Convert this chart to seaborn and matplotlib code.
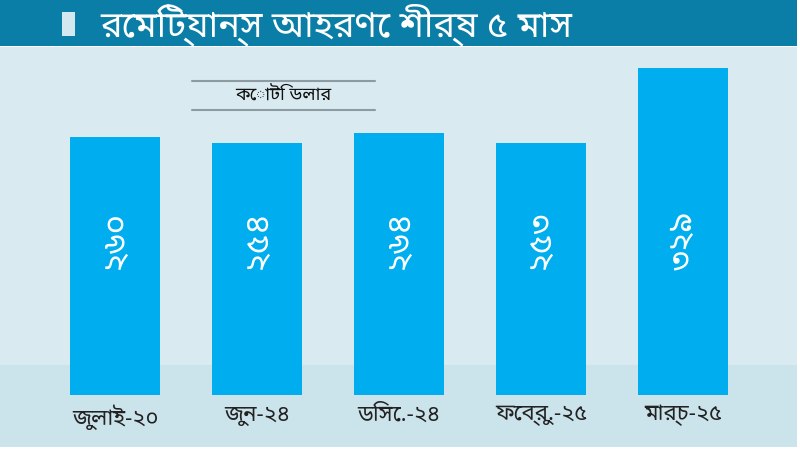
import matplotlib
matplotlib.use('Agg')
import matplotlib.pyplot as plt
import seaborn as sns
import pandas as pd
from matplotlib import font_manager
from matplotlib.patches import Rectangle
from matplotlib.lines import Line2D

# data (crore USD)
months = ['জুলাই-২০', 'জুন-২৪', 'ডিসে.-২৪', 'ফেব্রু.-২৫', 'মার্চ-২৫']
values = [260, 254, 264, 253, 329]
value_labels = ['২৬০', '২৫৪', '২৬৪', '২৫৩', '৩২৯']
title = 'রেমিট্যান্স আহরণে শীর্ষ ৫ মাস'
unit = 'কোটি ডলার'

sns.set_theme(style='white')
installed = {f.name for f in font_manager.fontManager.ttflist}
bn = [n for n in ['Noto Sans Bengali', 'Hind Siliguri', 'Lohit Bengali', 'FreeSans']
      if n in installed]
plt.rcParams['font.family'] = bn[:1] + ['DejaVu Sans']

df = pd.DataFrame({'month': months, 'value': values})

fig = plt.figure(figsize=(8, 4.5), dpi=100)
fig.patch.set_facecolor('white')

# background panels
fig.patches.append(Rectangle((0, 0.0067), 0.996, 0.889, transform=fig.transFigure,
                             facecolor='#d9ebf1', edgecolor='none', zorder=-10))
fig.patches.append(Rectangle((0, 0.0067), 0.996, 0.182, transform=fig.transFigure,
                             facecolor='#cbe3eb', edgecolor='none', zorder=-9))
# title bar
fig.patches.append(Rectangle((0, 0.898), 0.996, 0.102, transform=fig.transFigure,
                             facecolor='#0a7ea6', edgecolor='none', zorder=-8))
fig.patches.append(Rectangle((0.078, 0.92), 0.016, 0.053, transform=fig.transFigure,
                             facecolor='#d3e8ef', edgecolor='none', zorder=-7))
fig.text(0.125, 0.946, title, color='white', fontsize=26, va='center', ha='left')

ax = fig.add_axes([0.055, 0.1222, 0.8875, 0.771])
ax.set_facecolor('none')
sns.barplot(data=df, x='month', y='value', color='#00aeef', saturation=1,
            width=0.64, linewidth=0, ax=ax)
ax.set_ylim(0, 349)
ax.set_xlim(-0.5, 4.5)
for s in ax.spines.values():
    s.set_visible(False)
ax.set_yticks([])
ax.set_xlabel('')
ax.set_ylabel('')
ax.tick_params(axis='x', length=0, pad=7, labelsize=16, labelcolor='#222222')

for i, lab in enumerate(value_labels):
    ax.text(i, 156, lab, rotation=90, color='white', fontsize=24,
            fontweight='bold', ha='center', va='center')

# unit label with rules
fig.text(283 / 800, 1 - 96 / 450, unit, fontsize=13, fontweight='bold',
         color='#111111', ha='center', va='center')
for yy in (81, 110):
    fig.lines.append(Line2D([192 / 800, 375 / 800], [1 - yy / 450] * 2,
                            transform=fig.transFigure, color='#8d9ca2', lw=1.5))

fig.savefig('out.png', dpi=100)
